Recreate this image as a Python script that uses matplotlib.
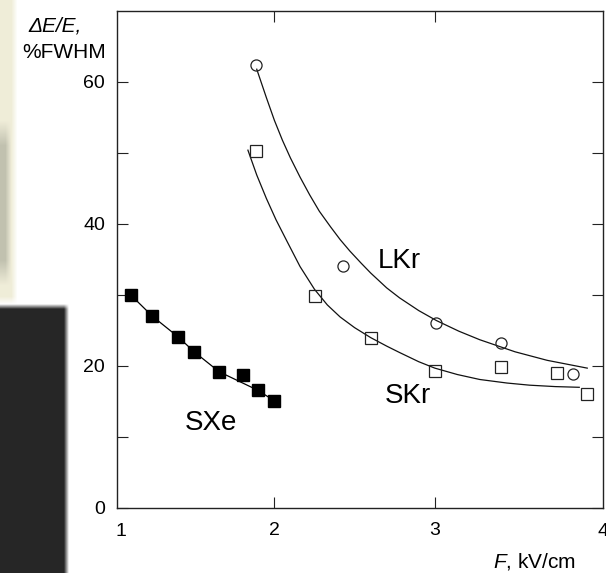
import matplotlib
matplotlib.use('Agg')
import matplotlib.pyplot as plt
import numpy as np

plt.rcParams['font.family'] = ['Liberation Sans', 'DejaVu Sans']
plt.rcParams['mathtext.fontset'] = 'custom'
plt.rcParams['mathtext.it'] = 'Liberation Sans:italic'
plt.rcParams['mathtext.rm'] = 'Liberation Sans'

# SXe, filled squares + straight fit line
sxe_x = [1.105, 1.24, 1.40, 1.50, 1.655, 1.805, 1.895, 2.0]
sxe_y = [30.0, 27.0, 24.1, 22.0, 19.2, 18.7, 16.6, 15.1]
sxe_fit_x = [1.105, 1.24, 1.40, 1.50, 1.655, 1.895, 2.0]
sxe_fit_y = [30.0, 27.0, 24.1, 22.0, 19.2, 16.6, 15.1]

# LKr, open circles + fitted curve
lkr_x = [1.885, 2.43, 3.01, 3.41, 3.86]
lkr_y = [62.4, 34.1, 26.1, 23.3, 18.9]
lkr_fit_x = [1.89, 1.95, 2.00, 2.05, 2.10, 2.16, 2.22, 2.28, 2.35, 2.41, 2.47, 2.54, 2.60, 2.70,
             2.78, 2.90, 3.01, 3.15, 3.28, 3.50, 3.70, 3.95]
lkr_fit_y = [61.8, 57.8, 54.6, 51.8, 49.3, 46.6, 44.1, 41.8, 39.6, 37.8, 36.2, 34.5, 33.1, 31.0,
             29.6, 27.8, 26.4, 24.9, 23.7, 22.0, 20.8, 19.7]

# SKr, open squares + fitted curve
skr_x = [1.885, 2.25, 2.60, 3.00, 3.41, 3.76, 3.95]
skr_y = [50.3, 29.9, 24.0, 19.3, 19.8, 19.0, 16.1]
skr_fit_x = [1.835, 1.89, 1.95, 2.01, 2.08, 2.16, 2.25, 2.33, 2.41, 2.50, 2.60, 2.70, 2.78, 2.90,
             3.00, 3.14, 3.28, 3.45, 3.59, 3.75, 3.90]
skr_fit_y = [50.4, 46.9, 43.6, 40.6, 37.5, 34.0, 30.8, 28.6, 26.9, 25.4, 24.0, 22.8, 21.9, 20.6,
             19.7, 18.8, 18.1, 17.6, 17.3, 17.1, 17.0]

y_major = [0, 20, 40, 60]
y_minor = [10, 30, 50]
x_major = [2, 3]

W, H = 606, 573
fig = plt.figure(figsize=(W / 100, H / 100), dpi=100)

# scanned-page background (dark block bottom-left, beige strip top-left)
yy, xx = np.mgrid[0:H, 0:W]
bg = np.ones((H, W, 3))
m_dark = np.clip((66 - xx) / 5 + 0.5, 0, 1) * np.clip((yy - 306) / 5 + 0.5, 0, 1)
m_beige = np.clip((14 - xx) / 6 + 0.5, 0, 1) * np.clip((300 - yy) / 8 + 0.5, 0, 1)
m_gray = np.clip((8 - xx) / 6 + 0.5, 0, 1) * np.clip((yy - 120) / 25, 0, 1) * np.clip((285 - yy) / 25, 0, 1)
for m, c in [(m_beige, (0.94, 0.93, 0.85)), (m_gray, (0.76, 0.76, 0.69)), (m_dark, (0.15, 0.15, 0.15))]:
    bg = bg * (1 - m[..., None]) + np.array(c) * m[..., None]
bax = fig.add_axes([0, 0, 1, 1], zorder=-1)
bax.imshow(bg, extent=(0, W, H, 0), aspect='auto', interpolation='nearest')
bax.axis('off')

ax = fig.add_axes([117 / W, 1 - 508 / H, (602.5 - 117) / W, (508 - 11) / H])
ax.set_facecolor('white')

ax.plot(sxe_fit_x, sxe_fit_y, color='black', lw=0.9)
ax.plot(sxe_x, sxe_y, 's', ms=9, color='black', mec='black')

ax.plot(lkr_fit_x, lkr_fit_y, color='#111111', lw=0.9)
ax.plot(lkr_x, lkr_y, 'o', ms=8, mfc='none', mec='#222222', mew=0.9)

ax.plot(skr_fit_x, skr_fit_y, color='#111111', lw=0.9)
ax.plot(skr_x, skr_y, 's', ms=9, mfc='none', mec='#222222', mew=0.9)

ax.set_xlim(1.019, 4.045)
ax.set_ylim(0, 70)
ax.set_xticks(x_major)
ax.set_xticklabels([str(v) for v in x_major])
ax.set_yticks(y_major)
ax.set_yticks(y_minor, minor=True)
ax.tick_params(which='both', direction='in', length=8, width=0.8, color='#222222',
               left=True, right=True, top=True, bottom=True, labelsize=14)
ax.tick_params(axis='x', pad=10)
ax.tick_params(axis='y', pad=8.5)
for s in ax.spines.values():
    s.set_linewidth(1.0)
    s.set_color('#222222')

# the "1" and "4" labels sit outside the axis range
xt = ax.get_xaxis_transform()
ax.text(1.045, -0.03, '1', transform=xt, ha='center', va='top', fontsize=14, clip_on=False)
ax.text(4.05, -0.03, '4', transform=xt, ha='center', va='top', fontsize=14, clip_on=False)

ax.text(2.645, 33.8, 'LKr', fontsize=20, ha='left', va='baseline')
ax.text(2.689, 14.8, 'SKr', fontsize=20, ha='left', va='baseline')
ax.text(1.442, 11.0, 'SXe', fontsize=20, ha='left', va='baseline')

fig.text(28 / W, 1 - 32 / H, 'ΔE/E,', fontsize=15, fontstyle='italic', ha='left', va='baseline')
fig.text(22 / W, 1 - 58 / H, '%FWHM', fontsize=15, ha='left', va='baseline')
fig.text(493 / W, 1 - 567 / H, r'$\mathit{F}$, kV/cm', fontsize=15, ha='left', va='baseline')

fig.savefig('out.png', dpi=100)
